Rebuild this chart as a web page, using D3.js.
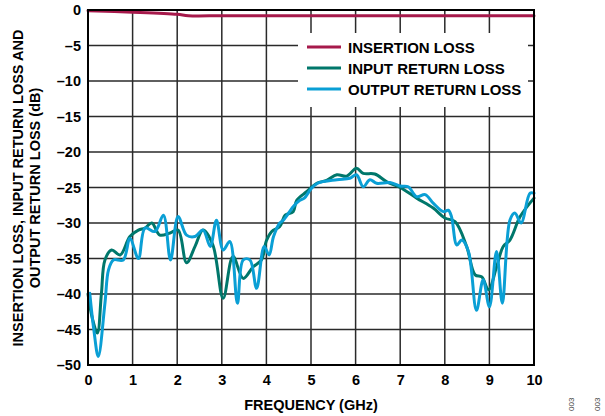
<!DOCTYPE html>
<html><head><meta charset="utf-8">
<script src="https://cdn.jsdelivr.net/npm/d3@7"></script>
<style>body{margin:0;background:#fff;}svg{display:block;font-family:"Liberation Sans",Arial,sans-serif;}</style>
</head><body>
<svg id="c" width="605" height="416"></svg>
<script>
const xTicks = [0,1,2,3,4,5,6,7,8,9,10];
const yTicks = [0,-5,-10,-15,-20,-25,-30,-35,-40,-45,-50];
const seriesNames = ["INSERTION LOSS","INPUT RETURN LOSS","OUTPUT RETURN LOSS"];
const seriesColors = ["#a6194b","#00776b","#0a9fd5"];

const ilFreq = [0,1,2,2.25,3,4,5,6,7,8,9,10];
const ilVal  = [-0.1,-0.3,-0.6,-0.8,-0.8,-0.8,-0.8,-0.8,-0.8,-0.8,-0.8,-0.8];

const inFreq = [0,0.1,0.21,0.3,0.38,0.53,0.72,0.94,1.13,1.28,1.43,1.61,1.84,2.02,2.21,2.4,2.58,2.8,3.03,3.25,3.48,3.7,3.89,4.0,4.12,4.3,4.42,4.6,4.68,4.9,5.13,5.35,5.58,5.8,6.02,6.17,6.43,6.7,7.0,7.37,7.74,8.0,8.23,8.49,8.68,8.83,8.98,9.16,9.31,9.46,9.69,10];
const inVal  = [-40,-43.5,-45.5,-40,-35.2,-33.8,-34.5,-31.9,-31,-30.7,-30,-31.7,-31.4,-31,-35.6,-33.3,-31,-33.1,-40.6,-34.7,-37.8,-36.2,-35.2,-32.5,-31.2,-30.5,-28.9,-28.4,-26.8,-25.6,-24.4,-24,-23.2,-23.4,-22.3,-23,-23.1,-24.2,-25,-26.5,-27.9,-29.3,-29.8,-33.3,-37.3,-37.6,-39.4,-36.2,-33.3,-32.4,-29.1,-26.5];

const outFreq = [0.04,0.13,0.23,0.38,0.46,0.57,0.79,0.94,1.13,1.28,1.5,1.69,1.85,2.02,2.21,2.4,2.58,2.74,2.88,3.03,3.18,3.35,3.48,3.63,3.78,3.95,4.06,4.16,4.3,4.38,4.6,4.75,4.85,5.0,5.15,5.58,5.87,6.02,6.17,6.32,6.47,6.77,7.0,7.18,7.37,7.56,7.74,7.97,8.08,8.15,8.27,8.38,8.53,8.71,8.86,9.0,9.16,9.29,9.46,9.57,9.71,9.91,10];
const outVal  = [-39.9,-45,-48.8,-41.3,-36.6,-35.2,-35.2,-32.2,-35,-30.7,-31.2,-28.9,-35.2,-29.1,-31.7,-31.9,-31,-33.3,-29.6,-33.8,-32.6,-41.3,-35.2,-35.2,-39.2,-33.3,-34.5,-31.9,-30,-29.6,-27.7,-26.8,-26.5,-25.2,-24.4,-23.9,-23.7,-23.2,-24.9,-23.9,-24.4,-24.3,-24.8,-24.9,-26.3,-26,-27.2,-28.4,-28.2,-29.1,-33.1,-32.4,-34,-42.3,-38,-41.8,-34,-41.3,-29.6,-28.6,-30,-25.8,-25.8];

const svg = d3.select("#c");
const x = d3.scaleLinear().domain([0,10]).range([88,534]);
const y = d3.scaleLinear().domain([-50,0]).range([365,10]);
const fmt = d => d < 0 ? "\u2013" + Math.abs(d) : String(d);

// grid
svg.append("g").selectAll("line").data(xTicks).join("line")
  .attr("x1",d=>x(d)).attr("x2",d=>x(d)).attr("y1",y(0)).attr("y2",y(-50))
  .attr("stroke","#2a2a2a").attr("stroke-width",1.5);
svg.append("g").selectAll("line").data(yTicks).join("line")
  .attr("x1",x(0)).attr("x2",x(10)).attr("y1",d=>y(d)).attr("y2",d=>y(d))
  .attr("stroke","#2a2a2a").attr("stroke-width",1.5);

// legend background
svg.append("rect").attr("x",298).attr("y",33).attr("width",230).attr("height",74).attr("fill","#fff");

// series
const line = d3.line().x(d=>x(d[0])).y(d=>y(d[1])).curve(d3.curveCatmullRom.alpha(0.5));
const data = [d3.zip(ilFreq,ilVal), d3.zip(inFreq,inVal), d3.zip(outFreq,outVal)];
[1,2,0].forEach(i=>{
  svg.append("path").attr("d",line(data[i])).attr("fill","none")
    .attr("stroke",seriesColors[i]).attr("stroke-width",3).attr("stroke-linejoin","round").attr("stroke-linecap","round");
});

// frame
svg.append("rect").attr("x",x(0)).attr("y",y(0)).attr("width",x(10)-x(0)).attr("height",y(-50)-y(0))
  .attr("fill","none").attr("stroke","#000").attr("stroke-width",2);

// axes labels
const xa = d3.axisBottom(x).tickValues(xTicks).tickSize(0).tickPadding(10).tickFormat(d=>d);
const gx = svg.append("g").attr("transform",`translate(0,${y(-50)})`).call(xa);
gx.select(".domain").remove();
gx.selectAll("text").attr("font-size",14.5).attr("font-weight","bold").attr("fill","#000").attr("font-family","Liberation Sans, Arial, sans-serif");
const ya = d3.axisLeft(y).tickValues(yTicks).tickSize(0).tickPadding(7).tickFormat(fmt);
const gy = svg.append("g").attr("transform",`translate(${x(0)},0)`).call(ya);
gy.select(".domain").remove();
gy.selectAll("text").attr("font-size",14.5).attr("font-weight","bold").attr("fill","#000").attr("font-family","Liberation Sans, Arial, sans-serif");

svg.append("text").attr("x",311).attr("y",410).attr("text-anchor","middle")
  .attr("font-size",14.5).attr("font-weight","bold").text("FREQUENCY (GHz)");
const yt = svg.append("text").attr("transform","translate(23,188) rotate(-90)").attr("text-anchor","middle")
  .attr("font-size",14.5).attr("font-weight","bold");
yt.append("tspan").attr("x",0).attr("y",0).text("INSERTION LOSS, INPUT RETURN LOSS AND");
yt.append("tspan").attr("x",0).attr("y",17).text("OUTPUT RETURN LOSS (dB)");

// legend
const lg = svg.append("g");
seriesNames.forEach((n,i)=>{
  const yy = 47 + i*21;
  lg.append("line").attr("x1",307).attr("x2",341).attr("y1",yy).attr("y2",yy)
    .attr("stroke",seriesColors[i]).attr("stroke-width",3);
  lg.append("text").attr("x",348).attr("y",yy+5.5).attr("font-size",15).attr("font-weight","bold").text(n);
});

// figure ids
[574,600].forEach(px=>{
  svg.append("text").attr("transform",`translate(${px},411) rotate(-90)`).attr("font-size",8)
    .attr("fill","#444").text("003");
});
</script>
</body></html>
